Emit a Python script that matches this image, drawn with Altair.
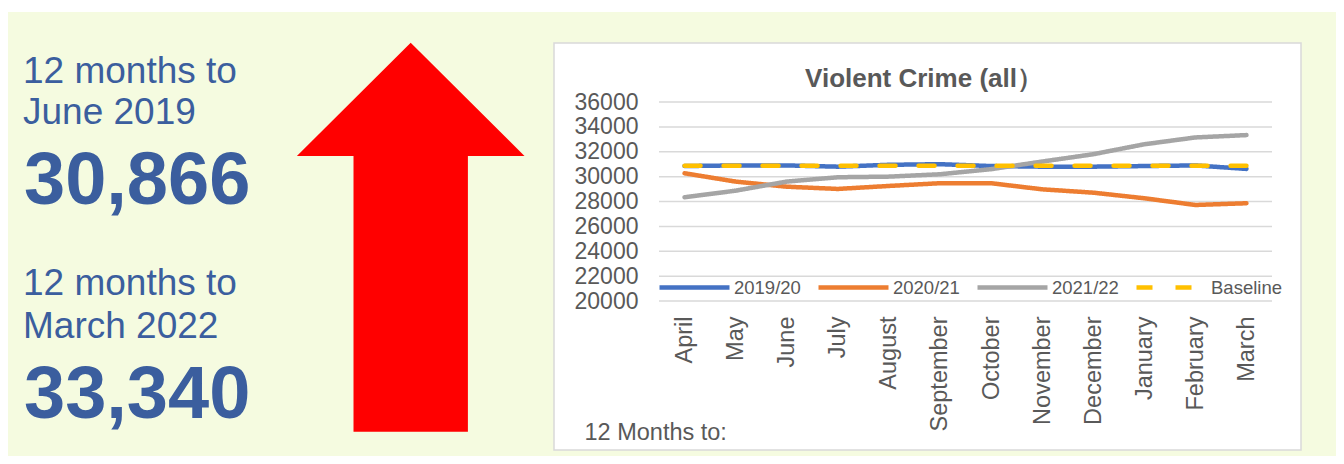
import altair as alt
import pandas as pd

# ---- data ----
months = ["April", "May", "June", "July", "August", "September", "October",
          "November", "December", "January", "February", "March"]
series_names = ["2019/20", "2020/21", "2021/22", "Baseline"]
s_2019_20 = [30850, 30900, 30900, 30800, 30950, 31000, 30850, 30800, 30800, 30850, 30900, 30620]
s_2020_21 = [30270, 29600, 29190, 29010, 29250, 29470, 29470, 28980, 28710, 28260, 27720, 27860]
s_2021_22 = [28340, 28870, 29600, 29950, 30000, 30190, 30600, 31210, 31800, 32600, 33150, 33340]
s_baseline = [30866, 30866, 30866, 30866, 30866, 30866, 30866, 30866, 30866, 30866, 30866, 30866]
y_ticks = [20000, 22000, 24000, 26000, 28000, 30000, 32000, 34000, 36000]

chart_title = "Violent Crime (all）"
x_title = "12 Months to:"
left_small_1 = ["12 months to", "June 2019"]
left_big_1 = "30,866"
left_small_2 = ["12 months to", "March 2022"]
left_big_2 = "33,340"

# ---- styles ----
FONT = "Liberation Sans, Arial, sans-serif"
GRAY_TXT = "#595959"
BLUE_TXT = "#3B5E9E"
PANEL = "#F5FBE0"
colors = ["#4472C4", "#ED7D31", "#A5A5A5", "#FFC000"]
dashes = [[1, 0], [1, 0], [1, 0], [16, 23]]

W, H = 613, 199  # plot area

rows = []
for name, vals in zip(series_names, [s_2019_20, s_2020_21, s_2021_22, s_baseline]):
    for m, v in zip(months, vals):
        rows.append({"month": m, "value": v, "series": name})
df = pd.DataFrame(rows)
one = pd.DataFrame({"k": [0]})

yscale = alt.Scale(domain=[20000, 36000], nice=False, zero=False)
yaxis = alt.Axis(values=y_ticks, format="d", title=None, grid=False, domain=False, ticks=False,
                 labelFont=FONT, labelFontSize=23, labelColor=GRAY_TXT, labelPadding=21,
                 labelOverlap=False, zindex=1)

legend = alt.Legend(orient="none", legendX=-2, legendY=148, direction="horizontal", columns=4,
                    symbolType="stroke", symbolSize=4900, symbolStrokeWidth=4.5,
                    labelFont=FONT, labelFontSize=18.5, labelColor=GRAY_TXT, labelOffset=2,
                    columnPadding=8, title=None, padding=0, zindex=1)


def rect(x, x2, y, y2, **kw):
    return alt.Chart(one).mark_rect(**kw).encode(
        x=alt.value(x), x2=alt.value(x2), y=alt.value(y), y2=alt.value(y2))


def text(label, x, y, size, bold=False, color=BLUE_TXT, align="left"):
    return alt.Chart(pd.DataFrame({"t": [label]})).mark_text(
        align=align, baseline="alphabetic", font=FONT, fontSize=size,
        fontWeight="bold" if bold else "normal", color=color
    ).encode(x=alt.value(x), y=alt.value(y), text="t:N")


panel = rect(-651, 677, -90, 354, fill=PANEL)
box = rect(-105, 642, -59, 348, fill="white", stroke="#D9D9D9", strokeWidth=1.5)

arrow_path = ("M0,-1.709 L1,-0.7135 L0.5026,-0.7135 L0.5026,1.709 "
              "L-0.5026,1.709 L-0.5026,-0.7135 L-1,-0.7135 Z")
arrow = alt.Chart(one).mark_point(shape=arrow_path, filled=True, fill="#FF0000",
                                  strokeWidth=0, opacity=1, size=51802).encode(
    x=alt.value(-248.3), y=alt.value(135.2))

texts = [
    text(left_small_1[0], -636, -19, 37),
    text(left_small_1[1], -636, 22, 37),
    text(left_big_1, -635, 102, 74, bold=True),
    text(left_small_2[0], -636, 193, 37),
    text(left_small_2[1], -636, 236, 37),
    text(left_big_2, -635, 316, 74, bold=True),
    text(chart_title, 265, -15, 26, bold=True, color=GRAY_TXT, align="center"),
]

grid = alt.Chart(pd.DataFrame({"tick": y_ticks})).mark_rule(
    color="#D9D9D9", strokeWidth=1.5).encode(
    y=alt.Y("tick:Q", scale=yscale, axis=yaxis))

lines = alt.Chart(df).mark_line(strokeWidth=4.5, strokeCap="round", strokeJoin="round").encode(
    x=alt.X("month:N", sort=months, scale=alt.Scale(type="point", padding=0.5),
            axis=alt.Axis(title=x_title, labelAngle=270, domain=False, ticks=False, grid=False,
                          labelFont=FONT, labelFontSize=23.5, labelColor=GRAY_TXT,
                          labelPadding=15, labelOverlap=False,
                          titleFont=FONT, titleFontSize=23.5, titleFontWeight="normal",
                          titleColor=GRAY_TXT, titleX=-75, titleY=138, titleAlign="left",
                          titleBaseline="alphabetic", zindex=1)),
    y=alt.Y("value:Q", scale=yscale, axis=yaxis),
    color=alt.Color("series:N", scale=alt.Scale(domain=series_names, range=colors), legend=legend),
    strokeDash=alt.StrokeDash("series:N", scale=alt.Scale(domain=series_names, range=dashes),
                              legend=legend),
)

chart = alt.layer(panel, box, arrow, *texts, grid, lines).properties(
    width=W, height=H,
    padding={"left": 0, "top": 4, "right": 0, "bottom": 0},
    background="white",
).configure_view(strokeWidth=0)

chart.save("out.html", embed_options={"renderer": "svg", "actions": False})
